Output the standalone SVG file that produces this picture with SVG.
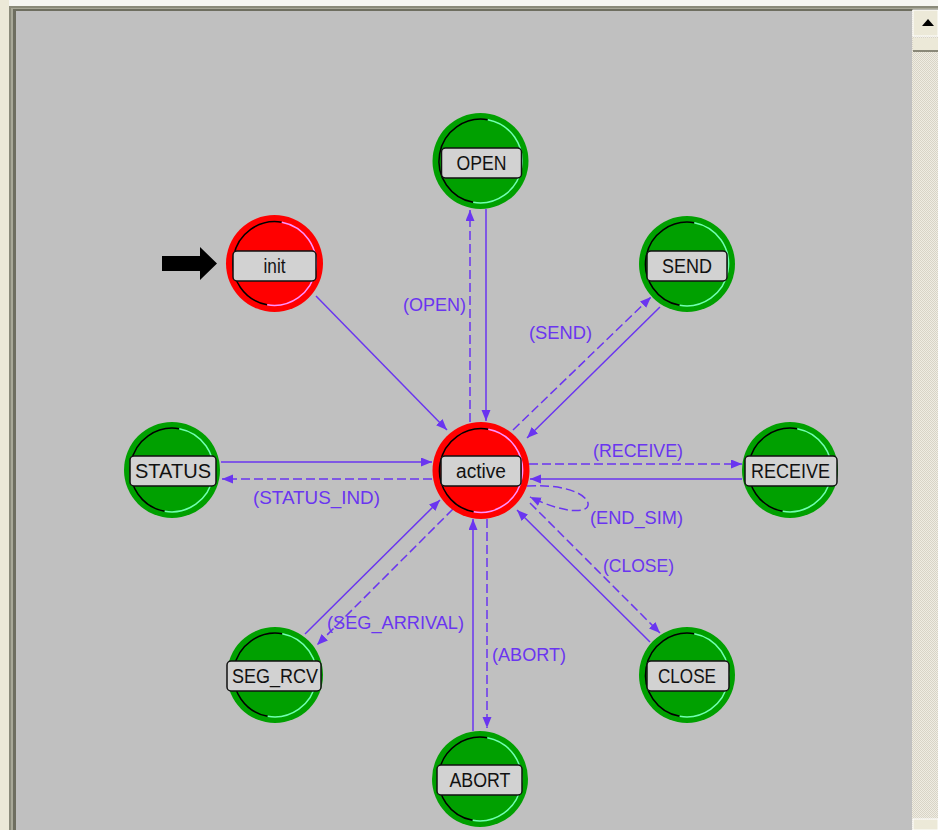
<svg xmlns="http://www.w3.org/2000/svg" width="938" height="830" viewBox="0 0 938 830">
<style>
.red{fill:#ff0000}
.grn{fill:#00a000}
.sh{fill:none;stroke:#000;stroke-width:1.5}
.hlr{fill:none;stroke:#ff90ff;stroke-width:1.5}
.hlg{fill:none;stroke:#70ffb0;stroke-width:1.5}
.box{fill:#d2d2d2;stroke:#111;stroke-width:1.5}
.nt{font-family:"Liberation Sans",Arial,sans-serif;font-size:20px;fill:#111;text-anchor:middle}
.lbl{font-family:"Liberation Sans",Arial,sans-serif;font-size:18px;fill:#6a35f0}
.c{fill:none;stroke:#6a35f0;stroke-width:1.5}
.d{stroke-dasharray:9 4}
</style>
<defs>
<marker id="ah" markerUnits="userSpaceOnUse" markerWidth="12" markerHeight="10" refX="11" refY="4.5" orient="auto">
<path d="M0,0 L11,4.5 L0,9 z" fill="#6a35f0"/>
</marker>
<pattern id="dots" width="2" height="2" patternUnits="userSpaceOnUse">
<rect width="2" height="2" fill="#efece2"/>
<rect width="1" height="1" fill="#d8d4c6"/>
<rect x="1" y="1" width="1" height="1" fill="#d8d4c6"/>
</pattern>
<path id="arcK" d="M7.29,-41.36 A42,42 0 0 0 -7.29,41.36"/>
<path id="arcL" d="M7.29,-41.36 A42,42 0 0 1 -7.29,41.36"/>
</defs>

<!-- frame -->
<rect x="0" y="0" width="938" height="830" fill="#f6f6f2"/>
<rect x="0" y="0" width="9" height="830" fill="#ece9d8"/>
<rect x="9" y="6" width="929" height="824" fill="#8a8a7a"/>
<rect x="11" y="8" width="927" height="822" fill="#a8a898"/>
<rect x="13" y="9" width="925" height="821" fill="#6e6e60"/>
<rect x="16" y="11" width="896" height="819" fill="#c0c0c0"/>
<rect x="912" y="10" width="26" height="820" fill="url(#dots)"/>
<rect x="913" y="10" width="25" height="26" fill="#ece9d8" stroke="#fff" stroke-width="1"/>
<path d="M922,26 L928,19 L934,26 z" fill="#000"/>
<rect x="913" y="38" width="25" height="12" fill="#ece9d8"/>
<rect x="913" y="50" width="25" height="2" fill="#8a8878"/>
<rect x="913" y="819" width="25" height="11" fill="#ece9d8" stroke="#fff" stroke-width="1"/>

<!-- initial arrow -->
<path d="M162,256 H200 V247 L217,263.5 L200,280 V271 H162 z" fill="#000"/>

<!-- connectors -->
<g id="connectors">
<line class="c" x1="316" y1="296" x2="447" y2="430" marker-end="url(#ah)"/>
<line class="c d" x1="470" y1="422" x2="470" y2="210" marker-end="url(#ah)"/>
<line class="c" x1="486" y1="209" x2="486" y2="421" marker-end="url(#ah)"/>
<line class="c d" x1="513" y1="430" x2="651" y2="297" marker-end="url(#ah)"/>
<line class="c" x1="660" y1="307" x2="527" y2="438" marker-end="url(#ah)"/>
<line class="c d" x1="529" y1="464" x2="742" y2="464" marker-end="url(#ah)"/>
<line class="c" x1="742" y1="479" x2="530" y2="479" marker-end="url(#ah)"/>
<path class="c d" d="M527,486 C560,484 585,492 588,503 C590,514 565,514 530,497" marker-end="url(#ah)"/>
<line class="c d" x1="530" y1="503" x2="660" y2="633" marker-end="url(#ah)"/>
<line class="c" x1="650" y1="642" x2="517" y2="510" marker-end="url(#ah)"/>
<line class="c" x1="473" y1="731" x2="473" y2="519" marker-end="url(#ah)"/>
<line class="c d" x1="487" y1="519" x2="487" y2="728" marker-end="url(#ah)"/>
<line class="c" x1="305" y1="634" x2="440" y2="500" marker-end="url(#ah)"/>
<line class="c d" x1="453" y1="509" x2="317" y2="645" marker-end="url(#ah)"/>
<line class="c" x1="221" y1="462" x2="432" y2="462" marker-end="url(#ah)"/>
<line class="c d" x1="432" y1="479" x2="222" y2="479" marker-end="url(#ah)"/>
<text class="lbl" x="403" y="311" textLength="63" lengthAdjust="spacingAndGlyphs">(OPEN)</text>
<text class="lbl" x="529" y="339" textLength="63" lengthAdjust="spacingAndGlyphs">(SEND)</text>
<text class="lbl" x="593" y="457" textLength="90" lengthAdjust="spacingAndGlyphs">(RECEIVE)</text>
<text class="lbl" x="590" y="524" textLength="93" lengthAdjust="spacingAndGlyphs">(END_SIM)</text>
<text class="lbl" x="603" y="572" textLength="71" lengthAdjust="spacingAndGlyphs">(CLOSE)</text>
<text class="lbl" x="492" y="661" textLength="74" lengthAdjust="spacingAndGlyphs">(ABORT)</text>
<text class="lbl" x="327" y="629" textLength="137" lengthAdjust="spacingAndGlyphs">(SEG_ARRIVAL)</text>
<text class="lbl" x="253" y="504" textLength="127" lengthAdjust="spacingAndGlyphs">(STATUS_IND)</text>
</g>

<!-- nodes -->
<g id="init" transform="translate(274.5,263.5)">
<circle r="48.5" class="red"/><use href="#arcK" class="sh"/><use href="#arcL" class="hlr"/>
<rect x="-41.5" y="-12.5" width="83" height="30" rx="4" class="box"/>
<text class="nt" x="0" y="9" textLength="22" lengthAdjust="spacingAndGlyphs">init</text>
</g>
<g id="active" transform="translate(481,470.5)">
<circle r="48.5" class="red"/><use href="#arcK" class="sh"/><use href="#arcL" class="hlr"/>
<rect x="-40" y="-14.5" width="80" height="30" rx="4" class="box"/>
<text class="nt" x="0" y="7" textLength="50" lengthAdjust="spacingAndGlyphs">active</text>
</g>
<g id="OPEN" transform="translate(480.5,161)">
<circle r="48" class="grn"/><use href="#arcK" class="sh"/><use href="#arcL" class="hlg"/>
<rect x="-39" y="-13" width="80" height="30" rx="4" class="box"/>
<text class="nt" x="1" y="9" textLength="50" lengthAdjust="spacingAndGlyphs">OPEN</text>
</g>
<g id="SEND" transform="translate(687,264)">
<circle r="48" class="grn"/><use href="#arcK" class="sh"/><use href="#arcL" class="hlg"/>
<rect x="-40" y="-13" width="80" height="30" rx="4" class="box"/>
<text class="nt" x="0" y="9" textLength="50" lengthAdjust="spacingAndGlyphs">SEND</text>
</g>
<g id="STATUS" transform="translate(172,470)">
<circle r="48" class="grn"/><use href="#arcK" class="sh"/><use href="#arcL" class="hlg"/>
<rect x="-42" y="-14" width="86" height="30" rx="4" class="box"/>
<text class="nt" x="1" y="8" textLength="76" lengthAdjust="spacingAndGlyphs">STATUS</text>
</g>
<g id="RECEIVE" transform="translate(790,470)">
<circle r="48" class="grn"/><use href="#arcK" class="sh"/><use href="#arcL" class="hlg"/>
<rect x="-45" y="-14" width="92" height="30" rx="4" class="box"/>
<text class="nt" x="0.5" y="8" textLength="79" lengthAdjust="spacingAndGlyphs">RECEIVE</text>
</g>
<g id="SEG_RCV" transform="translate(275,675)">
<circle r="48" class="grn"/><use href="#arcK" class="sh"/><use href="#arcL" class="hlg"/>
<rect x="-48" y="-14" width="94" height="30" rx="4" class="box"/>
<text class="nt" x="0" y="8" textLength="86" lengthAdjust="spacingAndGlyphs">SEG_RCV</text>
</g>
<g id="CLOSE" transform="translate(687,675)">
<circle r="48" class="grn"/><use href="#arcK" class="sh"/><use href="#arcL" class="hlg"/>
<rect x="-40" y="-14" width="82" height="30" rx="4" class="box"/>
<text class="nt" x="0" y="8" textLength="58" lengthAdjust="spacingAndGlyphs">CLOSE</text>
</g>
<g id="ABORT" transform="translate(480,779)">
<circle r="48" class="grn"/><use href="#arcK" class="sh"/><use href="#arcL" class="hlg"/>
<rect x="-43" y="-14" width="85" height="30" rx="4" class="box"/>
<text class="nt" x="0" y="8" textLength="61" lengthAdjust="spacingAndGlyphs">ABORT</text>
</g>
</svg>
